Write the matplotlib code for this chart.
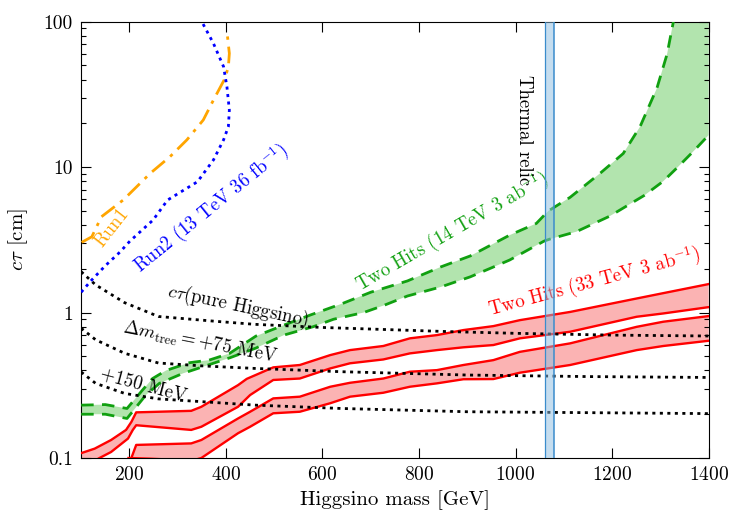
import numpy as np
import matplotlib
matplotlib.use("Agg")
import matplotlib.pyplot as plt
from matplotlib.ticker import FixedLocator, FixedFormatter, LogLocator, NullFormatter

plt.rcParams['font.family'] = 'serif'
plt.rcParams['font.serif'] = ['cmr10']
plt.rcParams['mathtext.fontset'] = 'cm'
plt.rcParams['axes.formatter.use_mathtext'] = True

# --- data (mass in GeV, c*tau in cm) ---
run1_m = [101, 122, 142, 187, 243, 284, 319, 353, 374, 398, 405, 407, 403, 401]
run1_ct = [3.04, 3.32, 4.56, 5.94, 9.06, 11.8, 15.4, 21.1, 28.9, 40.8, 49.1, 60.6, 80, 88]

run2_m = [100, 120, 150, 180, 201, 249, 279, 341, 374, 395, 405, 407, 402, 395, 374, 350]
run2_ct = [1.38, 1.65, 2.1, 2.6, 3.1, 4.33, 5.94, 7.94, 11.2, 15.4, 19.0, 24.7, 35.7, 49.1, 71, 100]

pure_m = [100, 130, 190, 260, 380, 460, 600, 860, 1000, 1200, 1400]
pure_ct = [1.91, 1.55, 1.17, 0.94, 0.87, 0.83, 0.79, 0.74, 0.72, 0.70, 0.69]

dm75_m = [100, 130, 190, 260, 350, 460, 640, 900, 1150, 1400]
dm75_ct = [0.78, 0.65, 0.525, 0.45, 0.43, 0.413, 0.392, 0.372, 0.363, 0.358]

dm150_m = [100, 130, 190, 260, 350, 460, 640, 900, 1150, 1400]
dm150_ct = [0.39, 0.326, 0.278, 0.255, 0.244, 0.231, 0.219, 0.208, 0.205, 0.202]

# Two Hits 14 TeV band
g14_up_m = [100, 150, 195, 227, 248, 276, 324, 365, 407, 462, 520, 574, 640, 700,
            776, 845, 906, 988, 1043, 1068, 1113, 1175, 1223, 1258, 1293, 1314, 1327, 1335, 1400]
g14_up_ct = [0.231, 0.233, 0.219, 0.293, 0.352, 0.40, 0.452, 0.471, 0.523, 0.689, 0.82, 0.96,
             1.15, 1.38, 1.65, 2.06, 2.45, 3.41, 4.1, 5.0, 6.2, 9.06, 12.4, 19.0, 35.0, 60.0,
             100, 130, 130]
g14_lo_m = [100, 150, 195, 234, 262, 311, 352, 409, 462, 520, 581, 623, 685, 727, 776,
            845, 906, 956, 988, 1059, 1071, 1126, 1195, 1267, 1306, 1336, 1370, 1400]
g14_lo_ct = [0.20, 0.20, 0.187, 0.271, 0.326, 0.382, 0.424, 0.49, 0.57, 0.70, 0.80, 0.90,
             1.0, 1.12, 1.3, 1.5, 1.76, 2.07, 2.3, 3.1, 3.2, 3.6, 4.6, 6.4, 8.0, 10.0, 13.0, 16.6]

# Two Hits 33 TeV, upper band
r33a_up_m = [100, 128, 162, 193, 204, 214, 328, 349, 425, 443, 498, 553, 616, 657, 726,
             781, 837, 892, 954, 1009, 1113, 1251, 1306, 1400]
r33a_up_ct = [0.108, 0.116, 0.133, 0.156, 0.177, 0.206, 0.211, 0.225, 0.317, 0.35, 0.42,
              0.436, 0.51, 0.552, 0.589, 0.665, 0.70, 0.758, 0.807, 0.887, 1.01, 1.25, 1.36, 1.57]
r33a_lo_m = [100, 138, 162, 197, 207, 214, 328, 349, 425, 450, 498, 553, 616, 657, 726,
             781, 837, 892, 954, 1009, 1113, 1251, 1306, 1400]
r33a_lo_ct = [0.085, 0.1, 0.110, 0.136, 0.156, 0.168, 0.156, 0.164, 0.225, 0.271, 0.344,
              0.352, 0.413, 0.448, 0.476, 0.524, 0.552, 0.577, 0.598, 0.665, 0.738, 0.936, 0.986, 1.09]

# Two Hits 33 TeV, lower band
r33b_up_m = [198, 204, 214, 328, 349, 425, 450, 498, 553, 616, 657, 726, 781, 837, 892,
             954, 1009, 1113, 1251, 1306, 1400]
r33b_up_ct = [0.09, 0.1, 0.123, 0.126, 0.133, 0.187, 0.208, 0.257, 0.264, 0.309, 0.329,
              0.352, 0.392, 0.402, 0.436, 0.471, 0.537, 0.614, 0.798, 0.865, 0.946]
r33b_lo_m = [198, 240, 330, 349, 425, 450, 498, 553, 616, 657, 726, 781, 837, 892, 954,
             1009, 1113, 1251, 1306, 1400]
r33b_lo_ct = [0.1, 0.099, 0.096, 0.1, 0.148, 0.164, 0.203, 0.208, 0.238, 0.264, 0.281,
              0.309, 0.326, 0.348, 0.349, 0.386, 0.436, 0.552, 0.589, 0.64]

relic_lo, relic_hi = 1060, 1080

green_line = '#10a010'
green_fill = '#b2e4ae'
red_fill = '#fbb3b3'

fig = plt.figure(figsize=(7.42, 5.22), dpi=100)
ax = fig.add_axes([0.1094, 0.1226, 0.8456, 0.8358])

# bands
ax.fill(g14_up_m + g14_lo_m[::-1], g14_up_ct + g14_lo_ct[::-1], color=green_fill, lw=0, zorder=1)
ax.fill(r33a_up_m + r33a_lo_m[::-1], r33a_up_ct + r33a_lo_ct[::-1], color=red_fill, lw=0, zorder=1)
ax.fill(r33b_up_m + r33b_lo_m[::-1], r33b_up_ct + r33b_lo_ct[::-1], color=red_fill, lw=0, zorder=1)

ax.plot(g14_up_m, g14_up_ct, color=green_line, lw=2, ls=(0, (4.5, 3)), zorder=3)
ax.plot(g14_lo_m, g14_lo_ct, color=green_line, lw=2, ls=(0, (4.5, 3)), zorder=3)
for m, c in [(r33a_up_m, r33a_up_ct), (r33a_lo_m, r33a_lo_ct),
             (r33b_up_m, r33b_up_ct), (r33b_lo_m, r33b_lo_ct)]:
    ax.plot(m, c, color='#ff0000', lw=1.7, zorder=3)

# existing limits
ax.plot(run1_m, run1_ct, color='#ffa500', lw=2, ls=(0, (6, 2.5, 1.2, 2.5)), zorder=3)
ax.plot(run2_m, run2_ct, color='#0000ff', lw=2, ls=(0, (1.1, 1.6)), zorder=3)

# lifetime curves
for m, c in [(pure_m, pure_ct), (dm75_m, dm75_ct), (dm150_m, dm150_ct)]:
    ax.plot(m, c, color='black', lw=2, ls=(0, (1.1, 1.6)), zorder=4)

# thermal relic
ax.axvspan(relic_lo, relic_hi, facecolor='#8cbde0', alpha=0.5, lw=0, zorder=5)
ax.axvline(relic_lo, color='#3a8ccc', lw=0.9, zorder=5)
ax.axvline(relic_hi, color='#3a8ccc', lw=1.1, zorder=5)

# labels
fs = 13.5
ax.text(165, 3.83, 'Run1', color='#ffa500', fontsize=fs, rotation=52,
        ha='center', va='center', rotation_mode='anchor')
ax.text(371, 5.2, 'Run2 (13 TeV 36 fb$^{-1}$)', color='#0000ff', fontsize=fs, rotation=39,
        ha='center', va='center', rotation_mode='anchor')
ax.text(424, 1.11, r'$c\tau$(pure Higgsino)', color='black', fontsize=fs, rotation=-12,
        ha='center', va='center', rotation_mode='anchor')
ax.text(346, 0.622, r'$\Delta m_{\mathrm{tree}} = +75$ MeV', color='black', fontsize=fs,
        rotation=-11, ha='center', va='center', rotation_mode='anchor')
ax.text(228, 0.317, '+150 MeV', color='black', fontsize=fs, rotation=-15,
        ha='center', va='center', rotation_mode='anchor')
ax.text(869, 3.58, 'Two Hits (14 TeV 3 ab$^{-1}$)', color=green_line, fontsize=fs, rotation=30,
        ha='center', va='center', rotation_mode='anchor')
ax.text(1163, 1.61, 'Two Hits (33 TeV 3 ab$^{-1}$)', color='#ff0000', fontsize=fs, rotation=15,
        ha='center', va='center', rotation_mode='anchor')
ax.text(1017, 18, 'Thermal relic', color='black', fontsize=fs, rotation=-90,
        ha='center', va='center', rotation_mode='anchor')

# axes
ax.set_xlim(100, 1400)
ax.set_yscale('log')
ax.set_ylim(0.1, 100)
ax.xaxis.set_major_locator(FixedLocator([200, 400, 600, 800, 1000, 1200, 1400]))
ax.yaxis.set_major_locator(FixedLocator([0.1, 1, 10, 100]))
ax.yaxis.set_major_formatter(FixedFormatter(['0.1', '1', '10', '100']))
ax.yaxis.set_minor_locator(LogLocator(base=10, subs=np.arange(2, 10)))
ax.yaxis.set_minor_formatter(NullFormatter())
ax.tick_params(which='both', direction='in', top=True, right=True, labelsize=14)
ax.tick_params(which='major', length=7, width=0.8, pad=6)
ax.tick_params(which='minor', length=3.5, width=0.8)
ax.set_xlabel('Higgsino mass [GeV]', fontsize=15)
ax.set_ylabel(r'$c\tau$ [cm]', fontsize=15, labelpad=10)

plt.savefig('out.png', dpi=100)
